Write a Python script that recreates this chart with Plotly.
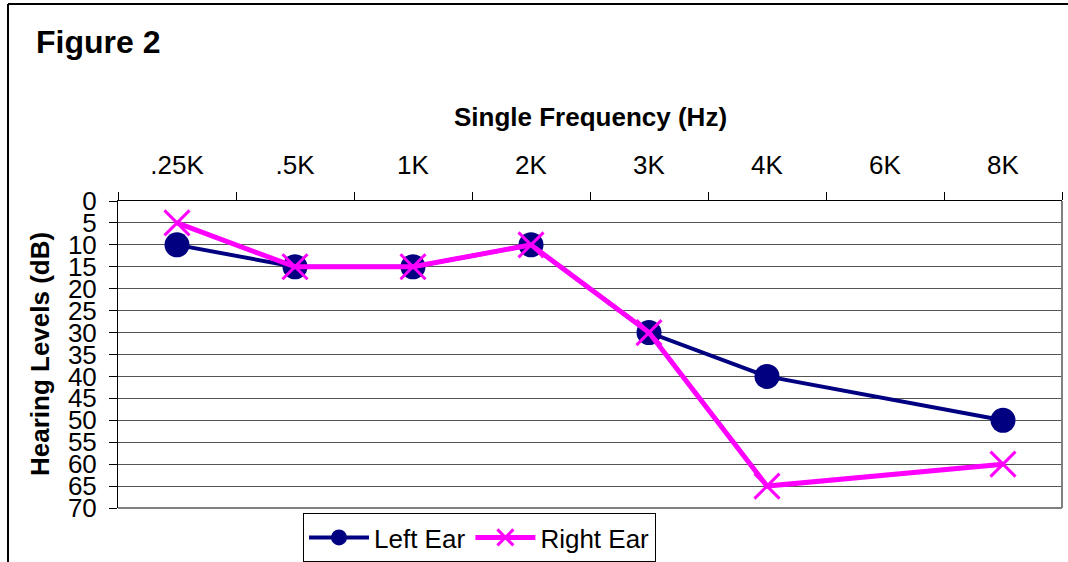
import plotly.graph_objects as go

# Audiogram values (dB hearing level) per test frequency; 6K was not tested
freqs = [".25K", ".5K", "1K", "2K", "3K", "4K", "6K", "8K"]
left_ear = [10, 15, 15, 10, 30, 40, None, 50]
right_ear = [5, 15, 15, 10, 30, 65, None, 60]
y_ticks = list(range(0, 75, 5))

W, H = 1068, 562
ML, MR, MT, MB = 118, 6, 201, 54
PW, PH = W - ML - MR, H - MT - MB
FONT = "Liberation Sans, Arial, sans-serif"


def px_x(px):
    return (px - ML) / PW


def px_y(py):
    return (H - MB - py) / PH


fig = go.Figure()

fig.add_trace(go.Scatter(
    x=freqs, y=left_ear, name="Left Ear", mode="lines+markers",
    connectgaps=True,
    line=dict(color="#000080", width=4),
    marker=dict(symbol="circle", size=25, color="#000080"),
))
fig.add_trace(go.Scatter(
    x=freqs, y=right_ear, name="Right Ear", mode="lines+markers",
    connectgaps=True,
    line=dict(color="#FF00FF", width=5),
    marker=dict(symbol="x-thin", size=25, color="#FF00FF",
                line=dict(color="#FF00FF", width=3)),
))

shapes = [
    # right and bottom edges of the plot area
    dict(type="line", xref="paper", yref="paper", x0=1, x1=1, y0=0, y1=1,
         line=dict(color="#808080", width=2)),
    dict(type="line", xref="paper", yref="paper", x0=0, x1=1, y0=0, y1=0,
         line=dict(color="#808080", width=2)),
    # outer chart frame (top and left)
    dict(type="line", xref="paper", yref="paper", x0=px_x(8), x1=px_x(1100),
         y0=px_y(4), y1=px_y(4), line=dict(color="black", width=2)),
    dict(type="line", xref="paper", yref="paper", x0=px_x(8), x1=px_x(8),
         y0=px_y(4), y1=px_y(600), line=dict(color="black", width=2)),
]

annotations = [
    dict(text="<b>Figure 2</b>", xref="paper", yref="paper",
         x=px_x(34), y=px_y(42), xanchor="left", yanchor="middle",
         showarrow=False, font=dict(family=FONT, size=32, color="black")),
    dict(text="<b>Single Frequency (Hz)</b>", xref="paper", yref="paper",
         x=px_x(590), y=px_y(117), xanchor="center", yanchor="middle",
         showarrow=False, font=dict(family=FONT, size=26, color="black")),
    dict(text="<b>Hearing Levels (dB)</b>", xref="paper", yref="paper",
         x=px_x(40), y=px_y(354), xanchor="center", yanchor="middle",
         textangle=-90, showarrow=False,
         font=dict(family=FONT, size=26, color="black")),
]

fig.update_layout(
    width=W, height=H,
    margin=dict(l=ML, r=MR, t=MT, b=MB, pad=0, autoexpand=False),
    paper_bgcolor="white", plot_bgcolor="white",
    font=dict(family=FONT, color="black"),
    showlegend=True,
    legend=dict(
        orientation="h", x=px_x(303), y=px_y(513),
        xanchor="left", yanchor="top",
        bordercolor="black", borderwidth=1, bgcolor="white",
        font=dict(family=FONT, size=26, color="black"),
        itemwidth=60, tracegroupgap=0,
    ),
    shapes=shapes,
    annotations=annotations,
)

fig.update_xaxes(
    type="category", categoryorder="array", categoryarray=freqs,
    side="top", range=[-0.5, len(freqs) - 0.5],
    tickson="boundaries", ticks="outside", ticklen=8, tickcolor="black",
    showline=True, linecolor="black", linewidth=1,
    showgrid=False, zeroline=False,
    tickfont=dict(family=FONT, size=26, color="black"),
    ticklabelstandoff=16,
)
fig.update_yaxes(
    range=[70, 0], tickmode="array", tickvals=y_ticks,
    ticktext=[str(v) for v in y_ticks],
    ticks="outside", ticklen=8, tickcolor="black",
    showline=True, linecolor="black", linewidth=1,
    showgrid=True, gridcolor="#555555", gridwidth=1,
    zeroline=False,
    tickfont=dict(family=FONT, size=26, color="black"),
    ticklabelstandoff=7,
)

fig.write_html("out.html")
